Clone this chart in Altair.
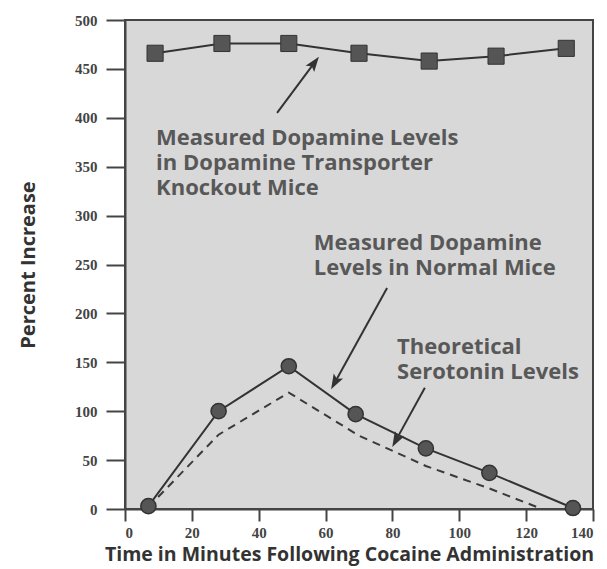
import math
import altair as alt
import pandas as pd

# ---- data ----
time_ko = [9, 29, 49, 70, 91, 111, 132]
dopamine_ko = [466, 476, 476, 466, 458, 463, 471]

time_normal = [7, 28, 49, 69, 90, 109, 134]
dopamine_normal = [3, 100, 146, 97, 62, 37, 1]

time_sero = [7, 28, 49, 70, 90, 109, 124]
serotonin = [2, 76, 119, 75, 44, 21, 1]

x_ticks = [0, 20, 40, 60, 80, 100, 120, 140]
y_ticks = [0, 50, 100, 150, 200, 250, 300, 350, 400, 450, 500]

label_text = [
    ["Measured Dopamine Levels", "in Dopamine Transporter", "Knockout Mice"],
    ["Measured Dopamine", "Levels in Normal Mice"],
    ["Theoretical", "Serotonin Levels"],
]
label_x = [9.3, 56.5, 81.4]
label_y = [372, 265, 158.5]

arrow_tail_x = [45.5, 78.4, 89.7]
arrow_tail_y = [405, 226, 124]
arrow_tip_x = [57.7, 61.9, 80.2]
arrow_tip_y = [461, 124, 65]

# ---- layout / style ----
W, H = 468, 489
XS, YS = W / 140, H / 500
HEAD_SIZE = 300
HEAD_PATH = "M0,-1L0.62,0.75L0,0.38L-0.62,0.75Z"
DARK = "#333333"
MID = "#555555"
TXT = "#585858"
FONT = "Open Sans"
NUM_FONT = "Liberation Serif"

xs = alt.Scale(domain=[0, 140], nice=False, zero=False)
ys = alt.Scale(domain=[0, 500], nice=False, zero=False)

df_ko = pd.DataFrame({"t": time_ko, "v": dopamine_ko})
df_n = pd.DataFrame({"t": time_normal, "v": dopamine_normal})
df_s = pd.DataFrame({"t": time_sero, "v": serotonin})
df_lab = pd.DataFrame({"x": label_x, "y": label_y, "text": label_text})

# arrow heads: compute center & rotation from tip/tail (pixel-aware)
k = math.sqrt(HEAD_SIZE) / 2
rows = []
for tx, ty, px, py in zip(arrow_tail_x, arrow_tail_y, arrow_tip_x, arrow_tip_y):
    dx = (px - tx) * XS
    dy = -(py - ty) * YS
    L = math.hypot(dx, dy)
    ux, uy = dx / L, dy / L
    ang = math.degrees(math.atan2(ux, -uy)) % 360
    cx = px - k * 0.8 * ux / XS
    cy = py + k * 0.8 * uy / YS
    rows.append({"tx": tx, "ty": ty, "cx": cx, "cy": cy, "ang": ang})
df_arr = pd.DataFrame(rows)

X = alt.X("t:Q", scale=xs,
          axis=alt.Axis(values=x_ticks, title="Time in Minutes Following Cocaine Administration",
                        tickSize=12, labelPadding=4, titlePadding=5,
                        titleX=W / 2 - 10, titleFontSize=19.5))
Y = alt.Y("v:Q", scale=ys,
          axis=alt.Axis(values=y_ticks, title="Percent Increase",
                        tickSize=19, labelPadding=9, titlePadding=36))

ko_line = alt.Chart(df_ko).mark_line(color=DARK, strokeWidth=2).encode(x=X, y=Y)
ko_pts = alt.Chart(df_ko).mark_point(shape="square", size=260, filled=True, fill=MID,
                                     stroke=DARK, strokeWidth=1, opacity=1).encode(x="t:Q", y="v:Q")

sero_line = alt.Chart(df_s).mark_line(color="#3a3a3a", strokeWidth=2,
                                      strokeDash=[8, 6]).encode(x="t:Q", y="v:Q")
n_line = alt.Chart(df_n).mark_line(color=DARK, strokeWidth=2).encode(x="t:Q", y="v:Q")
n_pts = alt.Chart(df_n).mark_point(shape="circle", size=230, filled=True, fill=MID,
                                   stroke=DARK, strokeWidth=1.5, opacity=1).encode(x="t:Q", y="v:Q")

shafts = alt.Chart(df_arr).mark_rule(color=DARK, strokeWidth=2).encode(
    x="tx:Q", y="ty:Q", x2="cx:Q", y2="cy:Q")
heads = alt.Chart(df_arr).mark_point(shape=HEAD_PATH, size=HEAD_SIZE, filled=True,
                                     fill=DARK, strokeWidth=0, opacity=1).encode(
    x="cx:Q", y="cy:Q", angle=alt.Angle("ang:Q", scale=None))

labels = alt.Chart(df_lab).mark_text(align="left", baseline="alphabetic", font=FONT,
                                     fontWeight="bold", fontSize=22, color=TXT,
                                     lineHeight=25).encode(x="x:Q", y="y:Q", text="text")

chart = alt.layer(ko_line, ko_pts, sero_line, n_line, n_pts, shafts, heads, labels).properties(
    width=W, height=H,
    background="white",
    autosize=alt.AutoSizeParams(type="none"),
    padding={"left": 117, "top": 12, "right": 4, "bottom": 58},
).configure_view(
    fill="#d8d8d8", stroke="#444444", strokeWidth=2
).configure_axis(
    grid=False, domainColor="#444444", domainWidth=2, tickColor="#444444", tickWidth=2,
    labelFont=NUM_FONT, labelFontWeight="bold", labelFontSize=15, labelColor="#444444",
    titleFont=FONT, titleFontWeight="bold", titleFontSize=20, titleColor=DARK,
)

chart.save("out.html", embed_options={"renderer": "svg", "actions": False})
